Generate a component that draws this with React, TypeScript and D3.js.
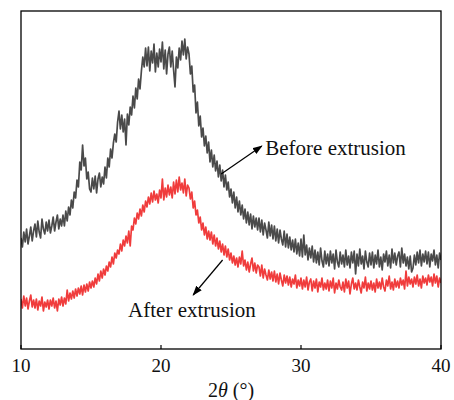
import React from "react";
import * as d3 from "d3";

// 2θ sampling grid (degrees), 0.1° step from 10 to 40
const angleStart = 10;
const angleStep = 0.1;

// Intensity (a.u.) – before extrusion, one value per 0.1° from 10.0 to 40.0
const beforeExtrusion = [
  111,102,117,107,120,105,113,122,108,118,
  125,112,128,117,111,130,120,115,127,118,
  129,116,123,132,118,127,134,120,130,123,
  134,123,138,128,142,134,149,141,157,151,
  169,162,187,179,204,183,191,170,177,160,
  157,171,160,173,156,170,176,162,172,165,
  182,171,191,182,200,191,206,215,207,227,
  238,220,234,217,230,204,235,224,242,234,
  253,241,261,250,270,260,278,292,282,301,
  283,302,278,298,286,305,277,296,282,300,
  287,307,280,299,275,295,302,282,298,279,
  262,292,281,301,289,308,294,310,290,302,
  295,275,283,257,264,236,247,223,233,212,
  221,203,213,196,207,187,199,182,194,178,
  188,172,184,168,179,162,174,159,167,152,
  160,146,157,141,152,137,148,134,144,130,
  140,126,137,124,135,120,133,122,131,119,
  131,117,129,114,126,119,111,127,113,124,
  110,123,108,120,106,119,110,104,118,102,
  115,101,112,99,109,97,110,95,106,93,
  110,92,114,94,104,89,101,91,103,87,
  99,86,97,84,101,88,82,98,85,95,
  83,98,86,95,80,99,87,82,97,85,
  94,82,99,84,93,81,97,86,98,75,
  95,83,100,85,93,80,98,87,82,96,
  84,97,81,94,85,99,82,92,79,95,
  87,98,83,94,81,100,86,96,84,93,
  97,82,101,86,95,83,92,80,93,77,
  81,94,84,97,86,99,83,95,87,98,
  85,97,82,95,88,99,84,94,81,96,
  89,
];

// Intensity (a.u.) – after extrusion
const afterExtrusion = [
  50,41,53,43,51,40,48,54,42,49,
  41,50,39,48,43,52,38,47,42,49,
  40,49,43,51,41,48,38,50,44,52,
  43,51,45,59,48,56,50,58,51,60,
  53,61,55,63,54,64,57,65,58,67,
  61,68,62,71,65,75,68,78,71,80,
  74,83,78,87,82,92,85,96,91,99,
  95,105,98,109,103,113,106,118,103,123,
  119,131,125,136,130,140,133,144,137,148,
  142,152,145,156,147,158,149,155,146,159,
  151,170,149,161,152,164,154,162,151,167,
  155,169,157,172,159,166,156,170,153,164,
  161,150,157,141,148,134,139,126,132,119,
  126,114,122,110,118,109,117,105,114,103,
  111,100,108,97,105,94,103,92,100,89,
  96,86,93,84,91,82,92,85,98,83,
  89,79,87,77,85,91,78,86,76,84,
  82,73,84,71,80,74,69,79,70,77,
  68,78,67,75,65,76,69,63,74,66,
  73,64,72,62,70,65,74,61,69,63,
  71,60,69,62,72,59,67,70,58,68,
  61,70,57,67,62,71,59,66,60,69,
  58,68,61,71,56,66,60,69,62,59,
  67,57,70,61,68,55,65,71,60,66,
  59,69,62,56,67,61,72,58,66,60,
  68,59,66,57,70,61,67,60,71,62,
  58,69,63,73,60,67,59,70,62,68,
  61,71,64,69,60,78,63,72,65,70,
  62,72,65,74,63,70,61,73,66,71,
  64,74,67,72,63,75,66,73,62,71,
  66,
];

const xTicks = [10, 20, 30, 40];
const xDomain = [10, 40];
const yDomain = [0, 338];

// annotations in data coordinates: [2θ, intensity]
const beforeLabel = { text: "Before extrusion", at: [27.45, 194], from: [24.3, 175], to: [27.2, 203] };
const afterLabel = { text: "After extrusion", at: [17.65, 32], from: [24.4, 89], to: [22.3, 54] };

const W = 454;
const H = 400;
const left = 21, right = 441, top = 11, bottom = 349;
const FONT = "'Liberation Serif', 'Times New Roman', serif";

export default function App() {
  const x = d3.scaleLinear().domain(xDomain).range([left, right]);
  const y = d3.scaleLinear().domain(yDomain).range([bottom, top]);
  const toPts = (arr: number[]) => arr.map((v, i) => [angleStart + i * angleStep, v] as [number, number]);
  const line = d3.line<[number, number]>().x((d) => x(d[0])).y((d) => y(d[1]));

  const arrow = (a: typeof beforeLabel, id: string) => (
    <g key={id}>
      <line
        x1={x(a.from[0])} y1={y(a.from[1])} x2={x(a.to[0])} y2={y(a.to[1])}
        stroke="#000" strokeWidth={1.2} markerEnd="url(#arrowhead)"
      />
      <text x={x(a.at[0])} y={y(a.at[1])} fontFamily={FONT} fontSize={21} fill="#111">
        {a.text}
      </text>
    </g>
  );

  return (
    <svg width={W} height={H} style={{ position: "absolute", left: 0, top: 0, background: "#fff" }}>
      <defs>
        <clipPath id="plot">
          <rect x={left} y={top} width={right - left} height={bottom - top} />
        </clipPath>
        <marker id="arrowhead" markerUnits="userSpaceOnUse" markerWidth={10} markerHeight={8}
          refX={9} refY={3.5} orient="auto">
          <path d="M0,0 L10,3.5 L0,7 Z" fill="#000" />
        </marker>
      </defs>
      <g clipPath="url(#plot)">
        <path d={line(toPts(beforeExtrusion)) || ""} fill="none" stroke="#4a4a4a" strokeWidth={1.7} strokeLinejoin="round" />
        <path d={line(toPts(afterExtrusion)) || ""} fill="none" stroke="#f03c3c" strokeWidth={1.7} strokeLinejoin="round" />
      </g>
      <rect x={left} y={top} width={right - left} height={bottom - top} fill="none" stroke="#000" strokeWidth={1.3} />
      {xTicks.map((t) => (
        <g key={t}>
          <line x1={x(t)} x2={x(t)} y1={bottom} y2={bottom - 4} stroke="#000" strokeWidth={1.2} />
          <text x={x(t)} y={371.5} textAnchor="middle" fontFamily={FONT} fontSize={19} fill="#111">
            {t}
          </text>
        </g>
      ))}
      <text x={(left + right) / 2} y={397} textAnchor="middle" fontFamily={FONT} fontSize={20} fill="#111">
        2<tspan fontStyle="italic">θ</tspan> (°)
      </text>
      {arrow(beforeLabel, "b")}
      {arrow(afterLabel, "a")}
    </svg>
  );
}
